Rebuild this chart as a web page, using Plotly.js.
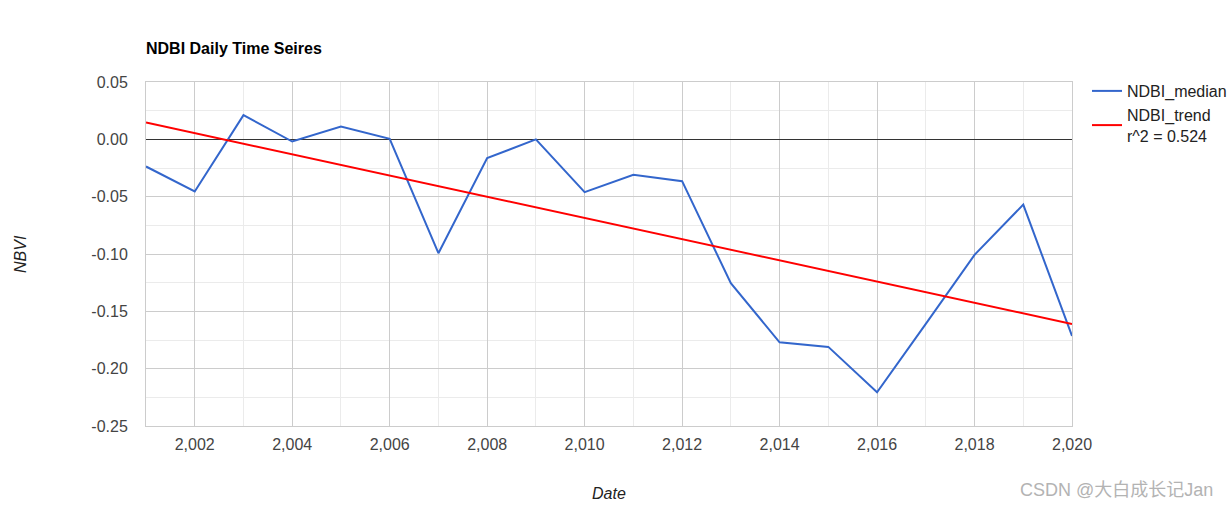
<!DOCTYPE html>
<html>
<head>
<meta charset="utf-8">
<script src="https://cdn.plot.ly/plotly-3.0.1.min.js"></script>
<style>html,body{margin:0;padding:0;background:#fff;}#chart{width:1231px;height:509px;}</style>
</head>
<body>
<div id="chart"></div>
<script>
const years = [2001,2002,2003,2004,2005,2006,2007,2008,2009,2010,2011,2012,2013,2014,2015,2016,2017,2018,2019,2020];
const ndbiMedian = [-0.0237,-0.0455,0.0211,-0.0019,0.0112,0.0004,-0.0993,-0.0164,0.0,-0.0461,-0.0310,-0.0365,-0.1255,-0.1770,-0.1810,-0.2206,-0.1610,-0.1008,-0.0569,-0.1715];
const trendYears = [2001, 2020];
const ndbiTrend = [0.0147, -0.1610];
const yTickVals = [0.05, 0.0, -0.05, -0.10, -0.15, -0.20, -0.25];
const yTickText = ['0.05', '0.00', '-0.05', '-0.10', '-0.15', '-0.20', '-0.25'];
const medianName = 'NDBI_median';
const trendName = 'NDBI_trend<br>r^2 = 0.524';
const chartTitle = 'NDBI Daily Time Seires';
const xTitle = 'Date';
const yTitle = 'NBVI';
const watermark = 'CSDN @大白成长记Jan';

const font = 'Arial, "Liberation Sans", sans-serif';

const traces = [
  {x: years, y: ndbiMedian, type: 'scatter', mode: 'lines', name: medianName,
   line: {color: '#3366cc', width: 2}},
  {x: trendYears, y: ndbiTrend, type: 'scatter', mode: 'lines', name: trendName,
   line: {color: '#ff0000', width: 2}}
];

const layout = {
  width: 1231, height: 509,
  margin: {l: 146, r: 159, t: 82, b: 83, pad: 0, autoexpand: false},
  paper_bgcolor: '#ffffff', plot_bgcolor: '#ffffff',
  font: {family: font, size: 16, color: '#444'},
  showlegend: true,
  title: {text: '<b>' + chartTitle + '</b>', x: 0, xref: 'paper', xanchor: 'left',
          y: 1 - 48/509, yref: 'container', yanchor: 'middle',
          font: {family: font, size: 16, color: '#000'}},
  xaxis: {
    range: [2001, 2020], tick0: 2002, dtick: 2, tickformat: ',d',
    showgrid: true, gridcolor: '#cccccc', gridwidth: 1,
    minor: {dtick: 1, tick0: 2001, showgrid: true, gridcolor: '#ebebeb', gridwidth: 1},
    zeroline: false, showline: true, mirror: true, linecolor: '#cccccc', linewidth: 1,
    ticks: '', ticklabelstandoff: 4, automargin: false,
    tickfont: {family: font, size: 16, color: '#444'}
  },
  yaxis: {
    range: [-0.25, 0.05], tickmode: 'array', tickvals: yTickVals, ticktext: yTickText,
    showgrid: true, gridcolor: '#cccccc', gridwidth: 1,
    minor: {dtick: 0.025, tick0: -0.25, showgrid: true, gridcolor: '#ebebeb', gridwidth: 1},
    zeroline: true, zerolinecolor: '#333333', zerolinewidth: 1,
    showline: true, mirror: true, linecolor: '#cccccc', linewidth: 1,
    ticks: '', ticklabelstandoff: 14, automargin: false,
    tickfont: {family: font, size: 16, color: '#444'}
  },
  legend: {x: (1087-146)/926, xanchor: 'left', y: 1 + 8/344, yanchor: 'top',
           font: {family: font, size: 16, color: '#222'}, bgcolor: 'rgba(0,0,0,0)',
           tracegroupgap: 0},
  annotations: [
    {text: '<i>' + yTitle + '</i>', xref: 'paper', yref: 'paper', x: (20-146)/926, y: 0.5,
     xanchor: 'center', yanchor: 'middle', textangle: -90, showarrow: false,
     font: {family: font, size: 16, color: '#222'}},
    {text: '<i>' + xTitle + '</i>', xref: 'paper', yref: 'paper', x: 0.5, y: (426-493)/344,
     xanchor: 'center', yanchor: 'middle', showarrow: false,
     font: {family: font, size: 16, color: '#222'}},
    {text: watermark, xref: 'paper', yref: 'paper', x: (1116-146)/926, y: (426-490)/344,
     xanchor: 'center', yanchor: 'middle', showarrow: false,
     font: {family: 'Arial, "Liberation Sans", "Noto Sans CJK SC", sans-serif', size: 18, color: '#b3b3b3'}}
  ]
};

Plotly.newPlot('chart', traces, layout, {displayModeBar: false, staticPlot: true});
</script>
</body>
</html>
